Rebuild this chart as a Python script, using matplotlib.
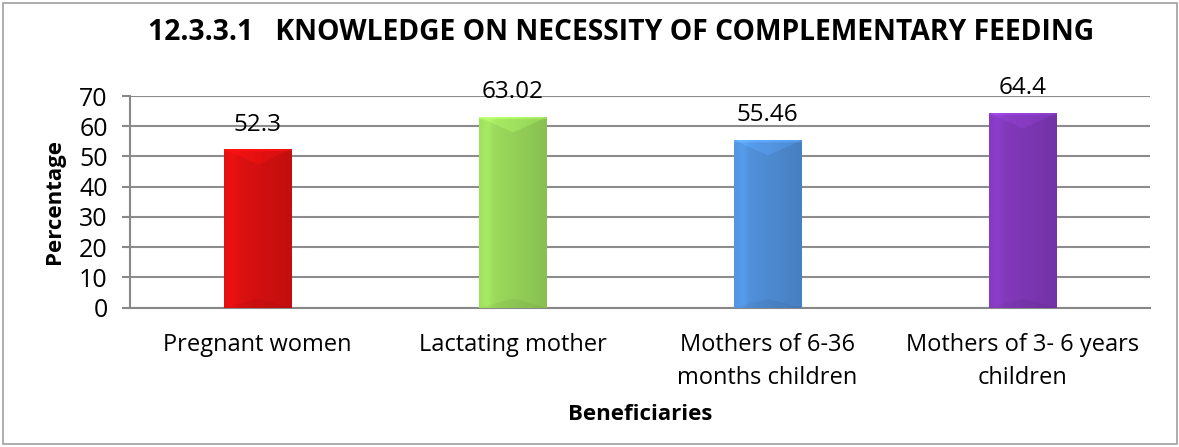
import numpy as np
import matplotlib
matplotlib.use("Agg")
import matplotlib.pyplot as plt
from matplotlib.patches import Rectangle
from matplotlib.colors import to_rgb

categories = ["Pregnant women", "Lactating mother", "Mothers of 6-36\nmonths children",
              "Mothers of 3- 6 years\nchildren"]
values = [52.3, 63.02, 55.46, 64.4]
labels = ["52.3", "63.02", "55.46", "64.4"]
colors = ["#d81010", "#98d65a", "#4f8ed6", "#8038b8"]
yticks = [0, 10, 20, 30, 40, 50, 60, 70]

plt.rcParams['font.family'] = ['Open Sans', 'DejaVu Sans']

fig = plt.figure(figsize=(11.79, 4.47), dpi=100)
ax = fig.add_axes([130/1179, 1 - 307.7/447, (1150-130)/1179, (307.7-96)/447])

x = np.arange(len(categories))
bars = ax.bar(x, values, width=0.263, color=colors, zorder=3)

# beveled gradient look
for b, c in zip(bars, colors):
    rgb = np.array(to_rgb(c))
    x0, w = b.get_x(), b.get_width()
    h = b.get_height()
    nx, ny = 60, 300
    u = np.linspace(0, 1, nx)[None, :]
    v = np.linspace(0, 1, ny)[:, None]  # 0 bottom, 1 top
    shade = 1.05 - 0.15 * u
    shade = shade + 0.06 * np.exp(-((u - 0.12) / 0.08) ** 2)
    top_d = (1 - v) * h
    tri = top_d < 5.0 * (1 - np.abs(u - 0.5) * 2)
    shade = np.where(tri, shade + 0.08, shade)
    edge = top_d < 0.6
    shade = np.where(edge, shade + 0.12, shade)
    bot = (v * h < 3.0 * (1 - np.abs(u - 0.5) * 2))
    shade = np.where(bot, shade - 0.05, shade)
    img = np.clip(rgb[None, None, :] * shade[:, :, None], 0, 1)
    ax.imshow(img, extent=[x0, x0 + w, 0, h], origin='lower', aspect='auto', zorder=3.5,
              interpolation='bilinear')

for xi, v, t in zip(x, values, labels):
    ax.annotate(t, (xi, v), xytext=(0, 18), textcoords='offset points', ha='center',
                va='center', fontsize=17.5, zorder=5)

ax.set_xlim(-0.5, len(categories) - 0.5)
ax.set_ylim(0, 70)
ax.set_yticks(yticks)
ax.set_yticklabels([str(t) for t in yticks], fontsize=18)
ax.set_xticks(x)
ax.set_xticklabels(categories, fontsize=17, linespacing=1.5)
ax.tick_params(axis='x', length=0, pad=18)
ax.tick_params(axis='y', length=6, width=1.5, color='#888888', pad=10)
ax.yaxis.grid(True, color='#8c8c8c', lw=1.5, zorder=0)
ax.set_axisbelow(True)
for s in ['top', 'right']:
    ax.spines[s].set_visible(False)
ax.spines['left'].set_color('#888888')
ax.spines['left'].set_linewidth(1.5)
ax.spines['bottom'].set_color('#888888')
ax.spines['bottom'].set_linewidth(1.5)

ax.set_ylabel("Percentage", fontsize=16, fontweight='bold', labelpad=10)
ax.set_xlabel("Beneficiaries", fontsize=16, fontweight='bold', labelpad=10)

fig.text(621/1179, 1 - 32/447, "12.3.3.1   KNOWLEDGE ON NECESSITY OF COMPLEMENTARY FEEDING",
         ha='center', va='center', fontsize=20.3, fontweight='bold')

fig.patches.append(Rectangle((3/1179, 3/447), 1174/1179, 441/447, transform=fig.transFigure,
                             fill=False, edgecolor='#a0a0a0', lw=1.2))

fig.savefig("out.png", dpi=100)
